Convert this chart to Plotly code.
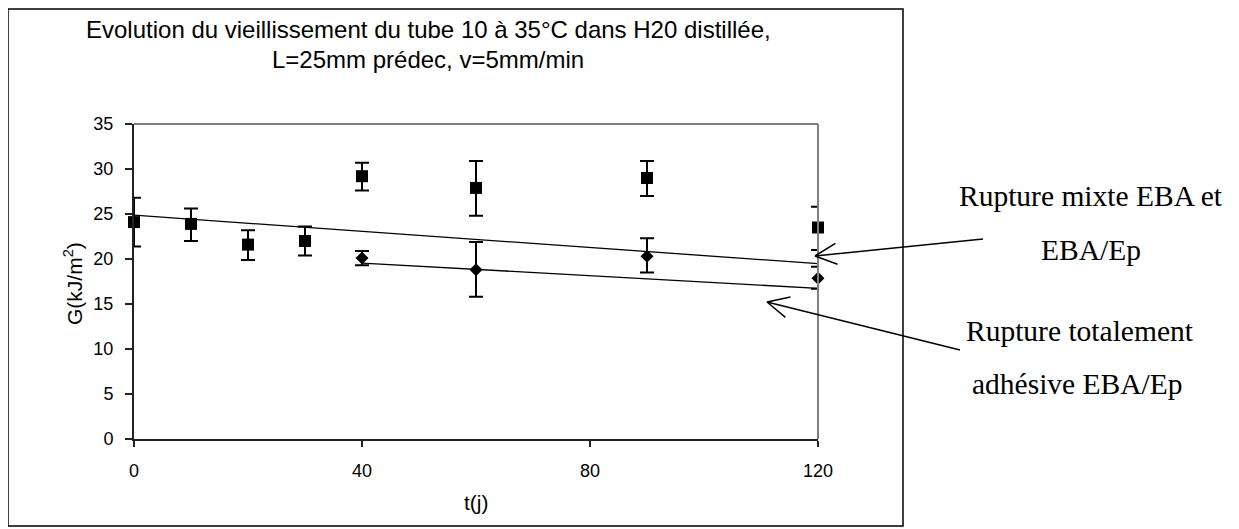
import math
import plotly.graph_objects as go

# ---- data ----
t_mixte = [0, 10, 20, 30, 40, 60, 90, 120]
g_mixte = [24.1, 23.9, 21.6, 22.0, 29.2, 27.9, 29.0, 23.5]
err_mixte_plus = [2.7, 1.7, 1.6, 1.6, 1.5, 3.0, 1.9, 2.3]
err_mixte_minus = [2.7, 1.9, 1.7, 1.6, 1.6, 3.1, 2.0, 2.5]

t_adh = [40, 60, 90, 120]
g_adh = [20.1, 18.8, 20.3, 17.85]
err_adh_plus = [0.8, 3.1, 2.0, 1.3]
err_adh_minus = [0.8, 3.0, 1.8, 1.15]

trend_mixte_t = [0, 120]
trend_mixte_g = [24.87, 19.48]
trend_adh_t = [40, 120]
trend_adh_g = [19.55, 16.74]

x_ticks = [0, 40, 80, 120]
y_ticks = [0, 5, 10, 15, 20, 25, 30, 35]

title_lines = ["Evolution du vieillissement du tube 10 à 35°C dans H20 distillée,",
               "L=25mm prédec, v=5mm/min"]
label_mixte = ["Rupture mixte EBA et", "EBA/Ep"]
label_adh = ["Rupture totalement", "adhésive EBA/Ep"]

# ---- layout geometry (pixels, in window coordinates) ----
W, H = 1239, 529
OFF = 8  # page body margin
L, R, T, B = 134, 818, 124, 439
PW, PH = R - L, B - T


def px(xp, yp):
    return (xp - L) / PW, (B - yp) / PH


fig = go.Figure()

for tx, ty in [(trend_mixte_t, trend_mixte_g), (trend_adh_t, trend_adh_g)]:
    fig.add_trace(go.Scatter(x=tx, y=ty, mode="lines",
                             line=dict(color="black", width=1.3),
                             hoverinfo="skip", showlegend=False, cliponaxis=False))

fig.add_trace(go.Scatter(
    x=t_mixte, y=g_mixte, mode="markers",
    marker=dict(symbol="square", size=12, color="black"),
    error_y=dict(type="data", array=err_mixte_plus, arrayminus=err_mixte_minus,
                 color="black", thickness=2, width=7),
    showlegend=False, cliponaxis=False))

fig.add_trace(go.Scatter(
    x=t_adh, y=g_adh, mode="markers",
    marker=dict(symbol="diamond", size=10, color="black"),
    error_y=dict(type="data", array=err_adh_plus, arrayminus=err_adh_minus,
                 color="black", thickness=2, width=7),
    showlegend=False, cliponaxis=False))

shapes = []
# gray plot border top/right
shapes.append(dict(type="line", xref="paper", yref="paper", x0=0, y0=1, x1=1, y1=1,
                   line=dict(color="#808080", width=2)))
shapes.append(dict(type="line", xref="paper", yref="paper", x0=1, y0=0, x1=1, y1=1,
                   line=dict(color="#808080", width=2)))
# outer chart frame
fx0, fy0 = px(8, 526)
fx1, fy1 = px(903, 9)
shapes.append(dict(type="rect", xref="paper", yref="paper", x0=fx0, y0=fy0, x1=fx1, y1=fy1,
                   line=dict(color="black", width=1.5), layer="below"))


def arrow(tip, tail, arm=24, half=26):
    ang = math.atan2(tail[1] - tip[1], tail[0] - tip[0])
    out = []
    a0, b0 = px(*tip)
    a1, b1 = px(*tail)
    out.append(dict(type="line", xref="paper", yref="paper", x0=a0, y0=b0, x1=a1, y1=b1,
                    line=dict(color="black", width=1.5)))
    for s in (-1, 1):
        aa = ang + s * math.radians(half)
        ex, ey = tip[0] + arm * math.cos(aa), tip[1] + arm * math.sin(aa)
        c, d = px(ex, ey)
        out.append(dict(type="line", xref="paper", yref="paper", x0=a0, y0=b0, x1=c, y1=d,
                        line=dict(color="black", width=1.5)))
    return out


shapes += arrow((815, 256), (983, 239))
shapes += arrow((767, 302), (960, 350))

annotations = []
for txt, yp in zip(title_lines, [30, 59]):
    xa, ya = px(428, yp)
    annotations.append(dict(text=txt, xref="paper", yref="paper", x=xa, y=ya,
                            xanchor="center", yanchor="middle", showarrow=False,
                            font=dict(family="Liberation Sans, Arial", size=24, color="black")))

for lines, xs, ys in [(label_mixte, [1091, 1091], [196, 250]),
                      (label_adh, [1080, 1077], [331, 384])]:
    for txt, xp_, yp_ in zip(lines, xs, ys):
        xa, ya = px(xp_, yp_)
        annotations.append(dict(text=txt, xref="paper", yref="paper", x=xa, y=ya,
                                xanchor="center", yanchor="middle", showarrow=False,
                                font=dict(family="Liberation Serif, Times New Roman", size=29.5,
                                          color="black")))

xa, ya = px(476, 502)
annotations.append(dict(text="t(j)", xref="paper", yref="paper", x=xa, y=ya,
                        xanchor="center", yanchor="middle", showarrow=False,
                        font=dict(family="Liberation Sans, Arial", size=21, color="black")))
xa, ya = px(73, 284)
annotations.append(dict(text="G(kJ/m<sup>2</sup>)", xref="paper", yref="paper", x=xa, y=ya,
                        xanchor="center", yanchor="middle", showarrow=False, textangle=-90,
                        font=dict(family="Liberation Sans, Arial", size=21, color="black")))

fig.update_layout(
    width=W - OFF, height=H - OFF,
    margin=dict(l=L - OFF, r=W - R, t=T - OFF, b=H - B, pad=0),
    paper_bgcolor="white", plot_bgcolor="white",
    shapes=shapes, annotations=annotations,
    xaxis=dict(range=[0, 120], tickvals=x_ticks, showgrid=False, zeroline=False,
               showline=True, linecolor="#222222", linewidth=2,
               ticks="outside", ticklen=6, tickwidth=1.5, tickcolor="#222222",
               ticklabelstandoff=8,
               tickfont=dict(family="Liberation Sans, Arial", size=18, color="black")),
    yaxis=dict(range=[0, 35], tickvals=y_ticks, showgrid=False, zeroline=False,
               showline=True, linecolor="#222222", linewidth=2,
               ticks="outside", ticklen=7, tickwidth=1.5, tickcolor="#222222",
               ticklabelstandoff=8,
               tickfont=dict(family="Liberation Sans, Arial", size=18, color="black")),
)

fig.write_html("out.html")
